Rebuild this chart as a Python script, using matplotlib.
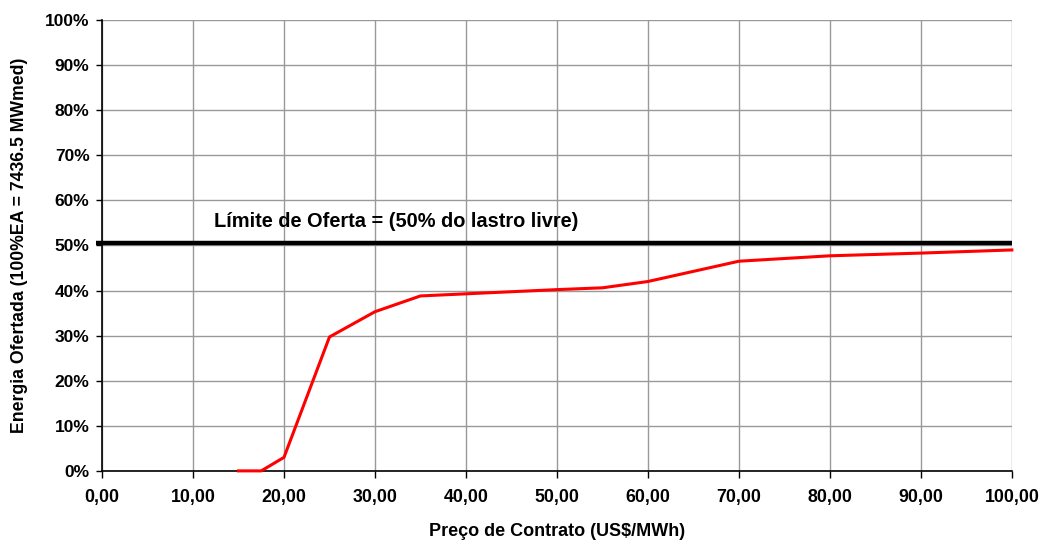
import matplotlib
matplotlib.use('Agg')
import matplotlib.pyplot as plt
from matplotlib.ticker import FuncFormatter

preco = [15.0, 17.5, 20.0, 25.0, 30.0, 35.0, 50.0, 55.0, 60.0, 70.0, 80.0, 90.0, 100.0]
energia = [0.0, 0.0, 3.0, 29.7, 35.3, 38.8, 40.2, 40.6, 42.0, 46.5, 47.7, 48.3, 49.0]
limite = 50.6

plt.rcParams['font.family'] = ['Liberation Sans', 'DejaVu Sans']
plt.rcParams['font.weight'] = 'bold'


def main():
    fig = plt.figure(figsize=(10.41, 5.4), dpi=100)
    ax = fig.add_axes([0.098, 0.128, 0.874, 0.835])

    ax.plot(preco, energia, color='#ff0000', linewidth=2.2, zorder=4, clip_on=False)
    ax.plot([-0.7, 100], [limite, limite], color='black', linewidth=3.2, zorder=5,
            clip_on=False, solid_capstyle='butt')

    ax.text(12.3, 53.2, 'Límite de Oferta = (50% do lastro livre)', fontsize=14.4,
            fontweight='bold', ha='left', va='bottom')

    ax.set_xlim(0, 100)
    ax.set_ylim(0, 100)
    ax.set_xticks(range(0, 101, 10))
    ax.set_yticks(range(0, 101, 10))
    ax.xaxis.set_major_formatter(FuncFormatter(lambda v, p: f'{v:.2f}'.replace('.', ',')))
    ax.yaxis.set_major_formatter(FuncFormatter(lambda v, p: f'{v:.0f}%'))
    ax.tick_params(axis='x', labelsize=12.8, length=5, width=1, direction='out', pad=8)
    ax.tick_params(axis='y', labelsize=12.5, length=4, width=1, direction='out', pad=5)

    ax.grid(True, color='#999999', linewidth=1)
    ax.set_axisbelow(True)
    for side in ('top', 'right'):
        ax.spines[side].set_visible(False)
    for side in ('left', 'bottom'):
        ax.spines[side].set_linewidth(1.2)
        ax.spines[side].set_zorder(3)

    ax.set_xlabel('Preço de Contrato (US$/MWh)', fontsize=13, fontweight='bold', labelpad=12)
    ax.set_ylabel('Energia Ofertada (100%EA = 7436.5 MWmed)', fontsize=12.7,
                  fontweight='bold', labelpad=12)

    fig.savefig('out.png', dpi=100)


main()
